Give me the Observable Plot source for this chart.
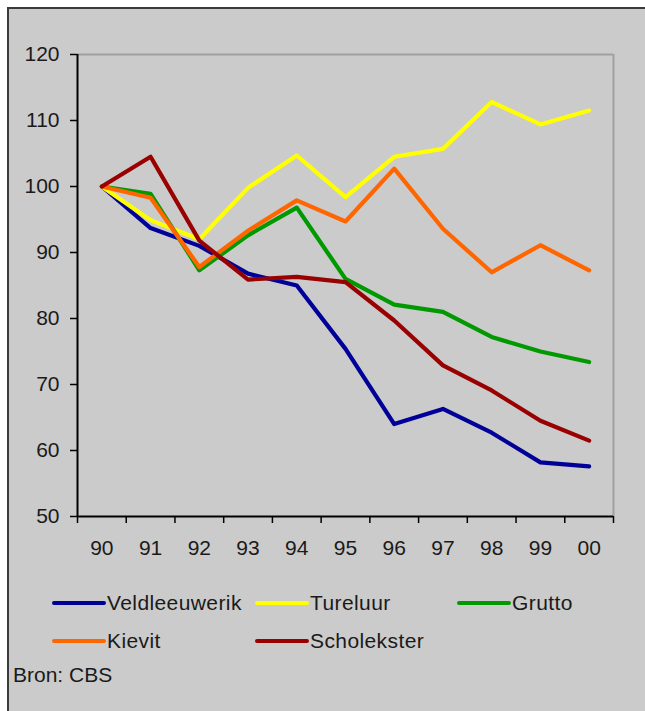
<!DOCTYPE html>
<html>
<head>
<meta charset="utf-8">
<script src="https://cdn.jsdelivr.net/npm/d3@7"></script>
<script src="https://cdn.jsdelivr.net/npm/@observablehq/plot@0.6"></script>
<style>
  html, body { margin: 0; padding: 0; background: #ffffff; width: 645px; height: 711px; overflow: hidden; }
  body { font-family: "Liberation Sans", Arial, sans-serif; }
  #frame { position: absolute; left: 7px; top: 7px; width: 660px; height: 720px;
           border-left: 2px solid #3a3a3a; border-top: 2px solid #3a3a3a; background: #cbcbcb; }
  #chart { position: absolute; left: 0; top: 0; }
  #legend { position: absolute; left: 52px; top: 590px; display: grid;
            grid-template-columns: 203px 202px 180px; row-gap: 12px; font-size: 21px; line-height: 26px; color: #1a1a1a; letter-spacing: 0.4px; }
  .item { display: flex; align-items: center; white-space: nowrap; }
  .sw { width: 54px; height: 4px; border-radius: 2px; margin-right: 1px; }
  #source { position: absolute; left: 13px; top: 662px; font-size: 21px; line-height: 26px; color: #1a1a1a; }
</style>
</head>
<body>
<div id="frame"></div>
<div id="chart"></div>
<div id="legend"></div>
<div id="source">Bron: CBS</div>
<script>
const years = [1990, 1991, 1992, 1993, 1994, 1995, 1996, 1997, 1998, 1999, 2000];
const yearLabels = ["90", "91", "92", "93", "94", "95", "96", "97", "98", "99", "00"];
const yTicks = [50, 60, 70, 80, 90, 100, 110, 120];

const seriesNames = ["Veldleeuwerik", "Tureluur", "Grutto", "Kievit", "Scholekster"];
const seriesColors = ["#000099", "#ffff00", "#009900", "#ff6600", "#990000"];

const veldleeuwerik = [100, 93.7, 91.0, 86.8, 85.0, 75.4, 64.0, 66.3, 62.7, 58.2, 57.6];
const tureluur      = [100, 94.9, 92.0, 99.8, 104.7, 98.4, 104.5, 105.7, 112.8, 109.4, 111.5];
const grutto        = [100, 98.9, 87.3, 92.6, 96.8, 86.0, 82.1, 81.0, 77.2, 75.0, 73.4];
const kievit        = [100, 98.3, 87.8, 93.3, 97.9, 94.7, 102.7, 93.6, 87.0, 91.1, 87.3];
const scholekster   = [100, 104.5, 91.8, 85.9, 86.3, 85.5, 79.7, 72.9, 69.1, 64.5, 61.5];

const seriesValues = [veldleeuwerik, tureluur, grutto, kievit, scholekster];

const rows = [];
seriesNames.forEach((name, s) => {
  years.forEach((yr, i) => rows.push({series: name, year: yr, value: seriesValues[s][i]}));
});

const boundaries = [...years.map(y => y - 0.5), years[years.length - 1] + 0.5];
const xMin = boundaries[0], xMax = boundaries[boundaries.length - 1];
const yMin = yTicks[0], yMax = yTicks[yTicks.length - 1];

const chart = Plot.plot({
  width: 645,
  height: 580,
  marginLeft: 77,
  marginRight: 32,
  marginTop: 54,
  marginBottom: 64,
  style: {background: "transparent", fontFamily: "'Liberation Sans', Arial, sans-serif", fontSize: "21px", color: "#1a1a1a", overflow: "visible"},
  x: {domain: [xMin, xMax]},
  y: {domain: [yMin, yMax]},
  color: {domain: seriesNames, range: seriesColors},
  marks: [
    Plot.ruleY([yMax], {stroke: "#a0a0a0", strokeWidth: 2}),
    Plot.ruleX([xMax], {stroke: "#a0a0a0", strokeWidth: 2}),
    Plot.axisY({ticks: yTicks, tickSize: 7, tickPadding: 11, tickFormat: d => String(d), stroke: "#000", strokeWidth: 1.5, label: null, fill: "#1a1a1a"}),
    Plot.axisX({ticks: boundaries, tickSize: 7, tickFormat: () => "", stroke: "#000", strokeWidth: 1.5, label: null}),
    Plot.axisX({ticks: years, tickSize: 0, tickPadding: 24, tickFormat: d => yearLabels[years.indexOf(d)], label: null, fill: "#1a1a1a"}),
    Plot.ruleX([xMin], {stroke: "#000", strokeWidth: 2}),
    Plot.ruleY([yMin], {stroke: "#000", strokeWidth: 2}),
    Plot.line(rows, {x: "year", y: "value", z: "series", stroke: "series", strokeWidth: 4.2, strokeLinejoin: "round", strokeLinecap: "round"})
  ]
});
document.getElementById("chart").appendChild(chart);

const legend = document.getElementById("legend");
seriesNames.forEach((name, i) => {
  const item = document.createElement("div");
  item.className = "item";
  const sw = document.createElement("span");
  sw.className = "sw";
  sw.style.background = seriesColors[i];
  const t = document.createElement("span");
  t.textContent = name;
  item.appendChild(sw);
  item.appendChild(t);
  legend.appendChild(item);
});
</script>
</body>
</html>
